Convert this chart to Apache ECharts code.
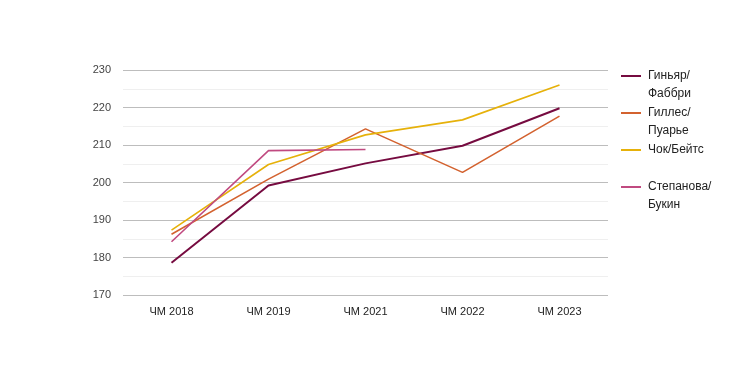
<!DOCTYPE html>
<html><head><meta charset="utf-8">
<script src="https://cdn.jsdelivr.net/npm/echarts@6/dist/echarts.min.js"></script>
<style>html,body{margin:0;padding:0;background:#fff}#c{width:730px;height:365px}</style>
</head><body><div id="c"></div>
<script>
const categories = ['ЧМ 2018', 'ЧМ 2019', 'ЧМ 2021', 'ЧМ 2022', 'ЧМ 2023'];
const seriesNames = ['Гиньяр/Фаббри', 'Гиллес/Пуарье', 'Чок/Бейтс', 'Степанова/Букин'];
const guignard = [178.6, 199.2, 205.1, 209.8, 219.8];
const gilles = [186.2, 200.9, 214.3, 202.7, 217.7];
const chock = [187.3, 204.8, 212.7, 216.7, 226.0];
const stepanova = [184.2, 208.5, 208.8, null, null];
const colors = ['#760b40', '#d3622f', '#e6b10a', '#c04a80'];
const values = [guignard, gilles, chock, stepanova];

const chart = echarts.init(document.getElementById('c'));
chart.setOption({
  animation: false,
  color: colors,
  textStyle: { fontFamily: 'Liberation Sans, Arial, sans-serif' },
  grid: { left: 123, right: 122, top: 70, bottom: 70 },
  legend: {
    orient: 'vertical',
    left: 621, top: 49, padding: 0,
    itemWidth: 20, itemHeight: 2,
    itemGap: -17,
    icon: 'rect',
    textStyle: {
      fontSize: 12, color: '#222', lineHeight: 18,
      rich: { t: { fontSize: 12, color: '#222', lineHeight: 18, padding: [0, 0, 0, 2] } }
    },
    formatter: function (n) {
      const parts = n === 'Чок/Бейтс' ? [n, ' '] : [n.split('/')[0] + '/', n.split('/')[1]];
      return '{t| }\n{t|' + parts[0] + '}\n{t|' + parts[1] + '}';
    },
    data: seriesNames
  },
  xAxis: {
    type: 'category', data: categories, boundaryGap: true,
    axisLine: { show: false }, axisTick: { show: false },
    axisLabel: { fontSize: 11, color: '#222', margin: 11 }
  },
  yAxis: {
    type: 'value', min: 170, max: 230, interval: 10,
    axisLine: { show: false }, axisTick: { show: false },
    axisLabel: { fontSize: 11, color: '#444', margin: 12 },
    splitLine: { lineStyle: { color: '#bdbdbd', width: 1 } },
    minorTick: { show: false, splitNumber: 2 },
    minorSplitLine: { show: true, lineStyle: { color: '#efefef', width: 1 } }
  },
  series: seriesNames.map((n, i) => ({
    name: n, type: 'line', data: values[i], showSymbol: false, symbol: 'none',
    lineStyle: { width: i === 0 ? 2 : 1.6, color: colors[i] }
  }))
});
</script></body></html>
